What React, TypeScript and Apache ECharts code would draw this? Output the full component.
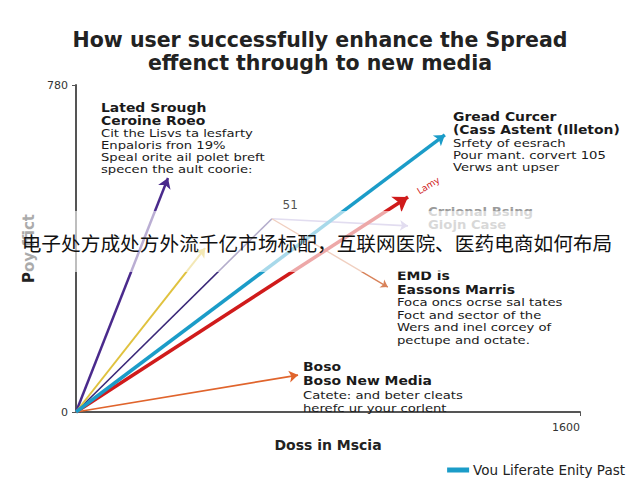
import React, { useEffect, useRef } from "react";
import * as echarts from "echarts";

// ---- data ----
const titleLines = ["How user successfully enhance the Spread", "effenct through to new media"];
const xAxisName = "Doss in Mscia";
const yAxisName = "Poy ffict";
const xMax = 1600;
const yMax = 780;

const rayNames = ["Lated Srough", "Ceroine Roeo", "Vou Liferate Enity Past", "Lamy", "Boso New Media"];
const rayEndX = [292, 410, 1171, 1054, 705];
const rayEndY = [558, 391, 661, 513, 88];
const rayColors = ["#4a2a8c", "#e0c23e", "#1b9cc8", "#d01b1b", "#e0642c"];
const rayWidths = [2.5, 2, 3.5, 3.5, 1.6];
const raySymbolSizes = [10, 9, 10, 14, 9];

const bendX = [0, 622];
const bendY = [0, 461];
const branchAX = [622, 1054];
const branchAY = [461, 444];
const branchBX = [622, 990];
const branchBY = [461, 298];
const peakLabel = "51";

const watermark = "电子处方成处方外流千亿市场标配，互联网医院、医药电商如何布局";

const noteA = ["Lated Srough", "Ceroine Roeo", "Cit the Lisvs ta lesfarty", "Enpaloris fron 19%", "Speal orite ail polet breft", "specen the ault coorie:"];
const noteB = ["Gread Curcer", "(Cass Astent (Illeton)", "Srfety of eesrach", "Pour mant. corvert 105", "Verws ant upser"];
const noteC = ["Crrional Bsing", "Giojn Case"];
const noteD = ["EMD is", "Eassons Marris", "Foca oncs ocrse sal tates", "Foct and sector of the", "Wers and inel corcey of", "pectupe and octate."];
const noteE = ["Boso", "Boso New Media", "Catete: and beter cleats", "herefc ur your corlent"];

const FONT = "'DejaVu Sans', Verdana, sans-serif";

function noteTexts(
  lines: string[],
  x: number,
  y: number,
  boldCount: number,
  lhs: number[],
  color = "#1a1a1a",
  boldScale = 1.16,
  bodyScale = 1.2
) {
  let yy = y;
  return lines.map((t, i) => {
    const bold = i < boldCount;
    const el = {
      type: "text",
      x,
      y: yy,
      z: 50,
      scaleX: bold ? boldScale : bodyScale,
      style: {
        text: t,
        fill: color,
        font: (bold ? "bold 12px " : "11px ") + FONT,
        align: "left",
        verticalAlign: "middle",
      },
    };
    yy += lhs[i] ?? lhs[lhs.length - 1];
    return el;
  });
}

export default function App() {
  const ref = useRef<HTMLDivElement>(null);
  useEffect(() => {
    if (!ref.current) return;
    const chart = echarts.init(ref.current, null, { renderer: "svg" });

    const raySeries = rayNames.map((n, i) => ({
      name: n,
      type: "lines",
      coordinateSystem: "cartesian2d",
      polyline: false,
      symbol: ["none", "arrow"],
      symbolSize: raySymbolSizes[i],
      lineStyle: { color: rayColors[i], width: rayWidths[i], opacity: 1, curveness: 0 },
      itemStyle: { color: rayColors[i] },
      z: i === 2 ? 6 : 5,
      data: [{ coords: [[0, 0], [rayEndX[i], rayEndY[i]]] }],
    }));

    chart.setOption({
      animation: false,
      backgroundColor: "#ffffff",
      title: {
        text: titleLines.join("\n"),
        left: "center",
        top: 23,
        textStyle: { fontFamily: FONT, fontWeight: "bold", fontSize: 20.5, color: "#222", lineHeight: 23 },
      },
      legend: {
        data: ["Vou Liferate Enity Past"],
        right: 10,
        top: 458,
        icon: "rect",
        itemWidth: 20,
        itemHeight: 3,
        itemGap: 6,
        textStyle: { fontFamily: FONT, fontSize: 13.5, color: "#222" },
      },
      grid: { left: 76, right: 60, top: 85, bottom: 68 },
      xAxis: {
        type: "value",
        min: 0,
        max: xMax,
        interval: xMax,
        name: xAxisName,
        nameLocation: "middle",
        nameGap: 22,
        nameTextStyle: { fontFamily: FONT, fontWeight: "bold", fontSize: 14, color: "#222" },
        axisLine: { show: true, lineStyle: { color: "#555", width: 2 } },
        axisTick: { show: true, length: 4, lineStyle: { color: "#555" } },
        axisLabel: {
          showMinLabel: false,
          formatter: (v: number) => String(v),
          fontFamily: FONT,
          fontSize: 11,
          color: "#333",
          margin: 10,
          align: "right",
        },
        splitLine: { show: false },
      },
      yAxis: {
        type: "value",
        min: 0,
        max: yMax,
        interval: yMax,
        name: yAxisName,
        nameLocation: "middle",
        nameGap: 34,
        nameTextStyle: { fontFamily: FONT, fontWeight: "bold", fontSize: 15, color: "#222" },
        axisLine: { show: true, lineStyle: { color: "#555", width: 2 } },
        axisTick: { show: true, length: 4, lineStyle: { color: "#555" } },
        axisLabel: { fontFamily: FONT, fontSize: 11, color: "#333", margin: 8 },
        splitLine: { show: false },
      },
      series: [
        ...raySeries,
        {
          name: "bend",
          type: "lines",
          coordinateSystem: "cartesian2d",
          symbol: ["none", "none"],
          lineStyle: { color: "#3a2878", width: 1.6, opacity: 1 },
          z: 4,
          data: [{ coords: [[bendX[0], bendY[0]], [bendX[1], bendY[1]]] }],
        },
        {
          name: "branchA",
          type: "lines",
          coordinateSystem: "cartesian2d",
          symbol: ["none", "arrow"],
          symbolSize: 8,
          lineStyle: { color: "#b3a6d8", width: 1.6, opacity: 1 },
          z: 4,
          data: [{ coords: [[branchAX[0], branchAY[0]], [branchAX[1], branchAY[1]]] }],
        },
        {
          name: "branchB",
          type: "lines",
          coordinateSystem: "cartesian2d",
          symbol: ["none", "arrow"],
          symbolSize: 7,
          lineStyle: { color: "#d8825a", width: 1.4, opacity: 1 },
          z: 4,
          data: [{ coords: [[branchBX[0], branchBY[0]], [branchBX[1], branchBY[1]]] }],
        },
        {
          name: "peak",
          type: "scatter",
          symbolSize: 0,
          data: [[bendX[1] + 58, bendY[1] + 33]],
          label: { show: true, formatter: peakLabel, position: "inside", fontFamily: FONT, fontSize: 12, color: "#222" },
          z: 5,
        },
      ],
      graphic: [
        ...noteTexts(noteA, 101, 108, 2, [13, 12.2]),
        ...noteTexts(noteB, 453, 117, 2, [13, 13, 12.2]),
        ...noteTexts(noteC, 428, 212, 2, [13], "#9a9a9a", 1.1),
        ...noteTexts(noteD, 397, 276, 2, [14, 12.5]),
        ...noteTexts(noteE, 303, 367, 2, [14, 14, 13]),
        {
          type: "text",
          x: 418,
          y: 192,
          rotation: 0.55,
          z: 50,
          style: { text: "Lamy", fill: "#d01b1b", font: "9px " + FONT, align: "left", verticalAlign: "middle" },
        },
        {
          type: "rect",
          z: 90,
          shape: { x: 0, y: 211, width: 640, height: 61 },
          style: { fill: "rgba(255,255,255,0.62)" },
        },
        {
          type: "text",
          x: 317,
          y: 242,
          z: 100,
          style: {
            text: watermark,
            fill: "#111",
            font: "19.7px 'Noto Sans CJK SC', sans-serif",
            align: "center",
            verticalAlign: "middle",
          },
        },
      ],
    });
    return () => chart.dispose();
  }, []);
  return <div ref={ref} style={{ width: 640, height: 480, position: "absolute", left: 0, top: 0 }} />;
}
